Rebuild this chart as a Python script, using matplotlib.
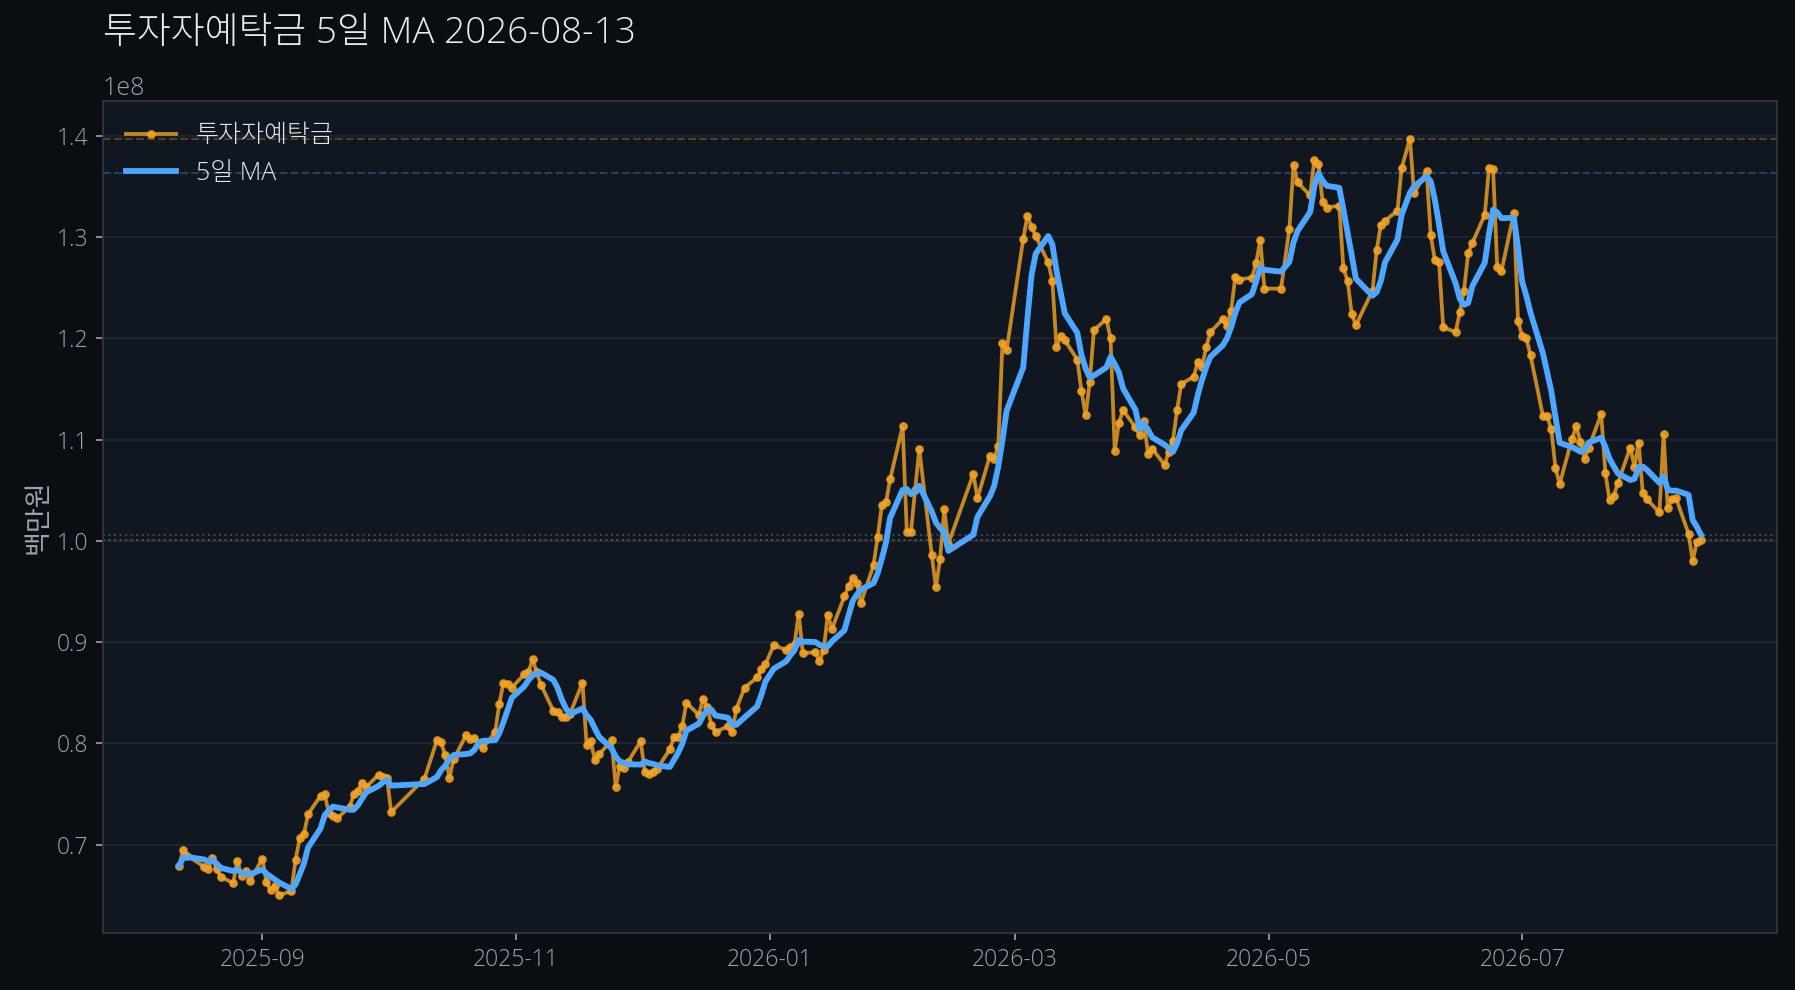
import numpy as np
import pandas as pd
import matplotlib
matplotlib.use("Agg")
import matplotlib.pyplot as plt
import matplotlib.dates as mdates

# Latin from Open Sans, Hangul from the CJK collection (registered under the JP name)
plt.rcParams['font.family'] = ['Open Sans', 'Noto Sans CJK JP', 'DejaVu Sans']
plt.rcParams['font.weight'] = 300

# trading days with no data point (holidays, market closed)
no_data = ['2025-08-15', '2025-10-03', '2025-10-06', '2025-10-07', '2025-10-08',
           '2025-10-09', '2025-12-25', '2026-01-01', '2026-02-16', '2026-02-17',
           '2026-02-18', '2026-03-02', '2026-05-01', '2026-05-05', '2026-05-25',
           '2026-06-03']

# 투자자예탁금 (x 1e8 백만원), one value per trading day
deposit = [
    # 2025-08
    0.679, 0.695, 0.689, 0.678, 0.676, 0.687, 0.676, 0.668, 0.662, 0.684, 0.669, 0.674, 0.664,
    # 2025-09
    0.686, 0.663, 0.655, 0.659, 0.650, 0.654, 0.685, 0.706, 0.710, 0.730,
    0.748, 0.750, 0.731, 0.728, 0.726, 0.737, 0.750, 0.753, 0.761, 0.757, 0.769, 0.767,
    # 2025-10
    0.766, 0.732, 0.765, 0.803, 0.801, 0.788, 0.766, 0.784,
    0.808, 0.804, 0.805, 0.800, 0.795, 0.811, 0.839, 0.860, 0.859, 0.855,
    # 2025-11
    0.868, 0.870, 0.883, 0.870, 0.858, 0.832, 0.831, 0.826, 0.826, 0.829,
    0.860, 0.798, 0.802, 0.783, 0.789, 0.803, 0.757, 0.778, 0.776, 0.782,
    # 2025-12
    0.802, 0.772, 0.770, 0.772, 0.775, 0.794, 0.806, 0.806, 0.817, 0.840,
    0.828, 0.844, 0.836, 0.818, 0.811, 0.817, 0.811, 0.834, 0.855, 0.865, 0.873, 0.878,
    # 2026-01
    0.897, 0.892, 0.895, 0.898, 0.928, 0.889, 0.890, 0.881, 0.892, 0.927, 0.913,
    0.945, 0.955, 0.963, 0.958, 0.939, 0.976, 1.004, 1.035, 1.038, 1.061,
    # 2026-02
    1.113, 1.009, 1.009, 1.050, 1.091, 0.986, 0.954, 0.982, 1.031, 0.997,
    1.066, 1.042, 1.084, 1.081, 1.094, 1.195, 1.188,
    # 2026-03
    1.298, 1.321, 1.310, 1.301, 1.275, 1.257, 1.191, 1.202, 1.198,
    1.179, 1.148, 1.124, 1.157, 1.208, 1.219, 1.200, 1.089, 1.116, 1.129, 1.112, 1.104,
    # 2026-04
    1.118, 1.086, 1.091, 1.075, 1.088, 1.099, 1.129, 1.155, 1.162, 1.177, 1.172,
    1.191, 1.206, 1.219, 1.212, 1.227, 1.261, 1.258, 1.260, 1.274, 1.297, 1.249,
    # 2026-05
    1.249, 1.308, 1.371, 1.354, 1.341, 1.376, 1.372, 1.335, 1.329,
    1.331, 1.269, 1.257, 1.224, 1.213, 1.247, 1.287, 1.312, 1.316,
    # 2026-06
    1.326, 1.368, 1.397, 1.343, 1.365, 1.302, 1.277, 1.275, 1.211, 1.206, 1.226,
    1.247, 1.284, 1.294, 1.322, 1.368, 1.367, 1.270, 1.266, 1.324, 1.217,
    # 2026-07
    1.202, 1.200, 1.183, 1.123, 1.123, 1.110, 1.072, 1.056, 1.101, 1.113, 1.098, 1.081,
    1.092, 1.125, 1.067, 1.040, 1.044, 1.057, 1.092, 1.073, 1.097, 1.047, 1.041,
    # 2026-08
    1.028, 1.105, 1.032, 1.041, 1.042, 1.007, 0.980, 0.999, 1.001,
]

dates = pd.bdate_range('2025-08-12', '2026-08-13', freq='C', holidays=no_data)
assert len(dates) == len(deposit), (len(dates), len(deposit))

s = pd.Series(np.array(deposit) * 1e8, index=dates)
ma = s.rolling(5, min_periods=1).mean()

ORANGE = '#f5a524'
BLUE = '#4da6ff'
FIG_BG = '#0a0d12'
AX_BG = '#111720'
TXT = '#9aa4b2'

fig = plt.figure(figsize=(11.967, 6.6), dpi=150, facecolor=FIG_BG)
ax = fig.add_axes([0.0574, 0.0576, 0.9326, 0.8404])
ax.set_facecolor(AX_BG)

ax.plot(s.index, s.values, color=ORANGE, alpha=0.8, lw=1.8, marker='o', ms=3.2,
        label='투자자예탁금', zorder=3)
ax.plot(ma.index, ma.values, color=BLUE, lw=2.8, label='5일 MA', zorder=4)

ax.axhline(s.max(), color=ORANGE, alpha=0.3, lw=1, ls='--', zorder=1)
ax.axhline(ma.max(), color=BLUE, alpha=0.3, lw=1, ls='--', zorder=1)
ax.axhline(s.iloc[-1], color=ORANGE, alpha=0.35, lw=1, ls=':', zorder=1)
ax.axhline(ma.iloc[-1], color=BLUE, alpha=0.35, lw=1, ls=':', zorder=1)

ax.grid(axis='y', color='#1e2633', lw=0.9)
ax.set_axisbelow(True)
ax.xaxis.set_major_locator(mdates.MonthLocator(bymonth=[1, 3, 5, 7, 9, 11]))
ax.xaxis.set_major_formatter(mdates.DateFormatter('%Y-%m'))

for sp in ax.spines.values():
    sp.set_color('#2c3644')
    sp.set_linewidth(0.9)
ax.tick_params(colors=TXT, labelsize=11, length=3.5, width=0.8)
ax.yaxis.get_offset_text().set_color(TXT)
ax.yaxis.get_offset_text().set_fontsize(12)

ax.set_ylabel('백만원', color=TXT, fontsize=13, labelpad=2)

leg = ax.legend(loc='upper left', fontsize=12, frameon=False, handlelength=2.0)
for t in leg.get_texts():
    t.set_color('#dfe5ec')

fig.text(0.0574, 0.966, '투자자예탁금 5일 MA 2026-08-13', color='#e6ebf0',
         fontsize=17.7, ha='left', va='center')

fig.savefig('out.png', dpi=150, facecolor=FIG_BG)
